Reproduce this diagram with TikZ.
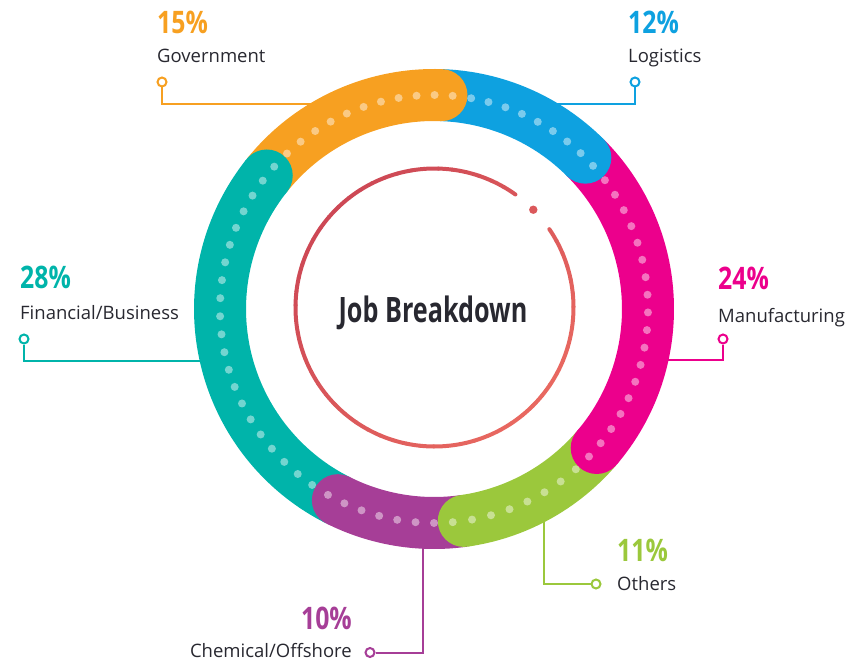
\documentclass[tikz,border=0pt]{standalone}
\usepackage{fontspec}
\setmainfont{Open Sans}
\usepackage{graphicx}
\usetikzlibrary{calc}
\definecolor{cOrange}{RGB}{247,160,33}
\definecolor{cBlue}{RGB}{14,161,224}
\definecolor{cMag}{RGB}{236,0,140}
\definecolor{cGreen}{RGB}{155,200,60}
\definecolor{cPurple}{RGB}{166,62,151}
\definecolor{cTeal}{RGB}{0,180,170}
\definecolor{cText}{RGB}{40,40,48}
\definecolor{cRedA}{RGB}{205,72,85}
\definecolor{cRedB}{RGB}{232,104,96}
\begin{document}
\begin{tikzpicture}[x=1pt,y=1pt,
  seg/.style={line width=52pt},
  leader/.style={line width=2pt},
  endring/.style={circle, draw, line width=2pt, fill=white, minimum size=9pt, inner sep=0pt},
  pct/.style={anchor=base west, inner sep=0pt, font=\fontsize{31}{31}\selectfont\bfseries},
  lbl/.style={anchor=base west, inner sep=0pt, text=cText, font=\fontsize{18.5}{18.5}\selectfont},
]
\useasboundingbox (0,0) rectangle (861,662);
\coordinate (c) at (434,353);
\coordinate (r) at (434.5,354.5);

% leaders
\node[endring, draw=cOrange] (gdot) at (162,580) {};
\coordinate (gend) at (318,558);
\draw[leader, cOrange] (gdot.south) |- (gend);
\node[endring, draw=cBlue] (ldot) at (635,580) {};
\coordinate (lend) at (550,558);
\draw[leader, cBlue] (ldot.south) |- (lend);
\node[endring, draw=cTeal] (fdot) at (24,323) {};
\coordinate (fend) at (210,301);
\draw[leader, cTeal] (fdot.south) |- (fend);
\node[endring, draw=cMag] (mdot) at (723,323) {};
\coordinate (mend) at (660,302);
\draw[leader, cMag] (mdot.south) |- (mend);
\node[endring, draw=cGreen] (odot) at (596,78) {};
\coordinate (oend) at (544,146);
\draw[leader, cGreen] (odot.west) -| (oend);
\node[endring, draw=cPurple] (cdot) at (370,9.5) {};
\coordinate (cend) at (423,119);
\draw[leader, cPurple] (cdot.east) -| (cend);

% ring arcs
\foreach \s/\e/\col in {141.4/88/cOrange, 88/45/cBlue, 45/-40.5/cMag, -40.5/-82/cGreen, -82/-116.7/cPurple, -116.7/-218.6/cTeal}
  \draw[seg, draw=\col] ($(c)+(\s:214pt)$) arc[start angle=\s, end angle=\e, radius=214pt];
% round ends
\foreach \e/\col in {88/cOrange, 45/cBlue, -40.5/cMag, -82/cGreen, -116.7/cPurple, -218.6/cTeal}
  \fill[\col] ($(c)+(\e:214pt)$) circle[radius=26pt];
% dots
\foreach \a/\d/\n in {133.4/4.84/11, 80/4.75/9, 37/4.74/18, -48.5/5.21/8, -90/4.95/7, -124.7/4.85/21}{
  \foreach \i in {1,...,\n}
    \fill[white, opacity=0.45] ($(c)+({\a-(\i-1)*\d}:214pt)$) circle[radius=4pt];
}

% inner red ring
\foreach \i in {0,...,59}{
  \pgfmathsetmacro\aa{54.4+\i*(339.9/60)}
  \pgfmathsetmacro\bb{\aa+339.9/60}
  \pgfmathtruncatemacro\tt{round(50*(1-cos(\aa-135)))}
  \draw[line width=4pt, line cap=round, cRedB!\tt!cRedA] ($(r)+(\aa:139pt)$) arc[start angle=\aa, end angle=\bb, radius=139pt];
}
\fill[cRedA!50!cRedB] ($(r)+(44.7:139pt)$) circle[radius=4.2pt];

% title
\node[inner sep=0pt, anchor=base, text=cText] (title) at (433,340)
  {\scalebox{0.72}[1]{\fontsize{35}{35}\selectfont\bfseries Job Breakdown}};

% labels
\node[pct, text=cOrange] (gpct) at (157,628) {\scalebox{0.8}[1]{15\%}};
\node[lbl] (glbl) at (157,599) {Government};
\node[pct, text=cBlue] (lpct) at (628,628) {\scalebox{0.8}[1]{12\%}};
\node[lbl] (llbl) at (628,599) {Logistics};
\node[pct, text=cTeal] (fpct) at (20,373) {\scalebox{0.8}[1]{28\%}};
\node[lbl] (flbl) at (20,342) {Financial/Business};
\node[pct, text=cMag] (mpct) at (718,372) {\scalebox{0.8}[1]{24\%}};
\node[lbl] (mlbl) at (718,340) {Manufacturing};
\node[pct, text=cGreen] (opct) at (617,101) {\scalebox{0.8}[1]{11\%}};
\node[lbl] (olbl) at (617,72) {Others};
\node[pct, text=cPurple, anchor=base east] (cpct) at (352,33) {\scalebox{0.8}[1]{10\%}};
\node[lbl, anchor=base east] (clbl) at (352,5) {Chemical/Offshore};
\end{tikzpicture}
\end{document}
